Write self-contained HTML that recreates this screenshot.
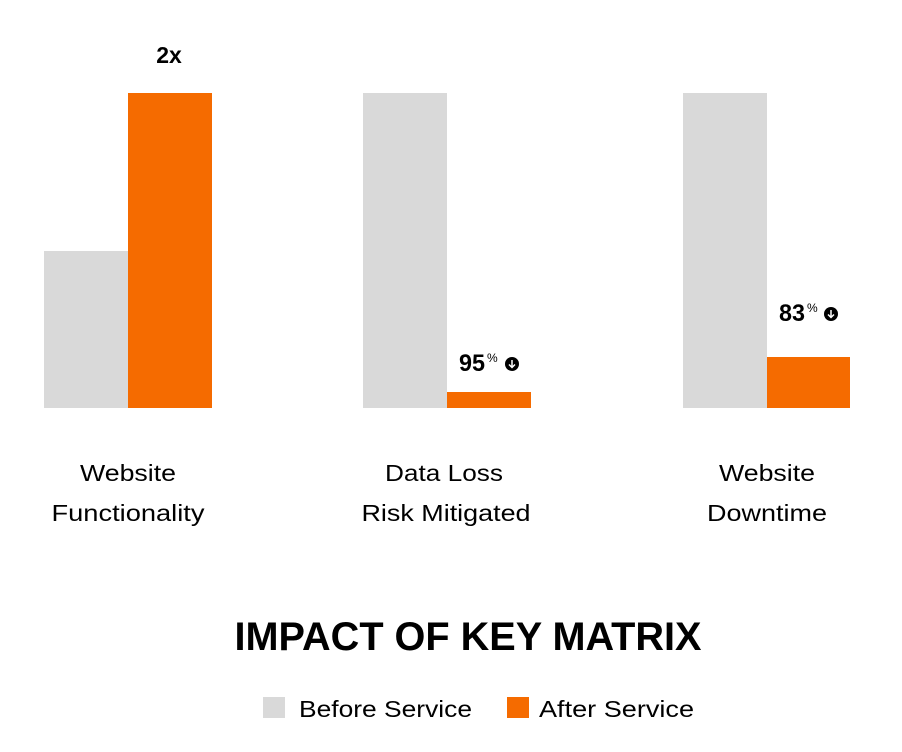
<!DOCTYPE html>
<html><head><style>
html,body{margin:0;padding:0;background:#fff;}
svg{display:block;font-family:"Liberation Sans",sans-serif;}
</style></head><body>
<svg width="902" height="752" viewBox="0 0 902 752">
<rect x="44" y="251" width="84" height="157" fill="#d9d9d9"/>
<rect x="128" y="93" width="84" height="315" fill="#f56b00"/>
<rect x="363" y="93" width="84" height="315" fill="#d9d9d9"/>
<rect x="447" y="392" width="84" height="16" fill="#f56b00"/>
<rect x="683" y="93" width="84" height="315" fill="#d9d9d9"/>
<rect x="767" y="357" width="83" height="51" fill="#f56b00"/>
<text x="169" y="63" font-size="23" font-weight="bold" text-anchor="middle">2x</text>
<text x="459" y="371" font-size="24" font-weight="bold" textLength="26" lengthAdjust="spacingAndGlyphs">95</text>
<text x="487" y="362" font-size="12">%</text>
<circle cx="512" cy="364" r="7" fill="#000"/>
<path d="M512 360v7M509 364.5l3 3 3-3" stroke="#fff" stroke-width="1.5" fill="none"/>
<text x="779" y="321" font-size="24" font-weight="bold" textLength="26" lengthAdjust="spacingAndGlyphs">83</text>
<text x="807" y="312" font-size="12">%</text>
<circle cx="831" cy="314" r="7" fill="#000"/>
<path d="M831 310v7M828 314.5l3 3 3-3" stroke="#fff" stroke-width="1.5" fill="none"/>
<g font-size="23" text-anchor="middle" fill="#000" lengthAdjust="spacingAndGlyphs">
<text x="128" y="481" textLength="96" lengthAdjust="spacingAndGlyphs">Website</text>
<text x="128" y="521" textLength="153" lengthAdjust="spacingAndGlyphs">Functionality</text>
<text x="444" y="481" textLength="118" lengthAdjust="spacingAndGlyphs">Data Loss</text>
<text x="446" y="521" textLength="169" lengthAdjust="spacingAndGlyphs">Risk Mitigated</text>
<text x="767" y="481" textLength="96" lengthAdjust="spacingAndGlyphs">Website</text>
<text x="767" y="521" textLength="120" lengthAdjust="spacingAndGlyphs">Downtime</text>
</g>
<text x="468" y="650" font-size="40" font-weight="bold" text-anchor="middle" textLength="467" lengthAdjust="spacingAndGlyphs">IMPACT OF KEY MATRIX</text>
<rect x="263" y="697" width="22" height="21" fill="#d9d9d9"/>
<text x="299" y="717" font-size="23" textLength="173" lengthAdjust="spacingAndGlyphs">Before Service</text>
<rect x="507" y="697" width="22" height="21" fill="#f56b00"/>
<text x="539" y="717" font-size="23" textLength="155" lengthAdjust="spacingAndGlyphs">After Service</text>
</svg>
</body></html>
